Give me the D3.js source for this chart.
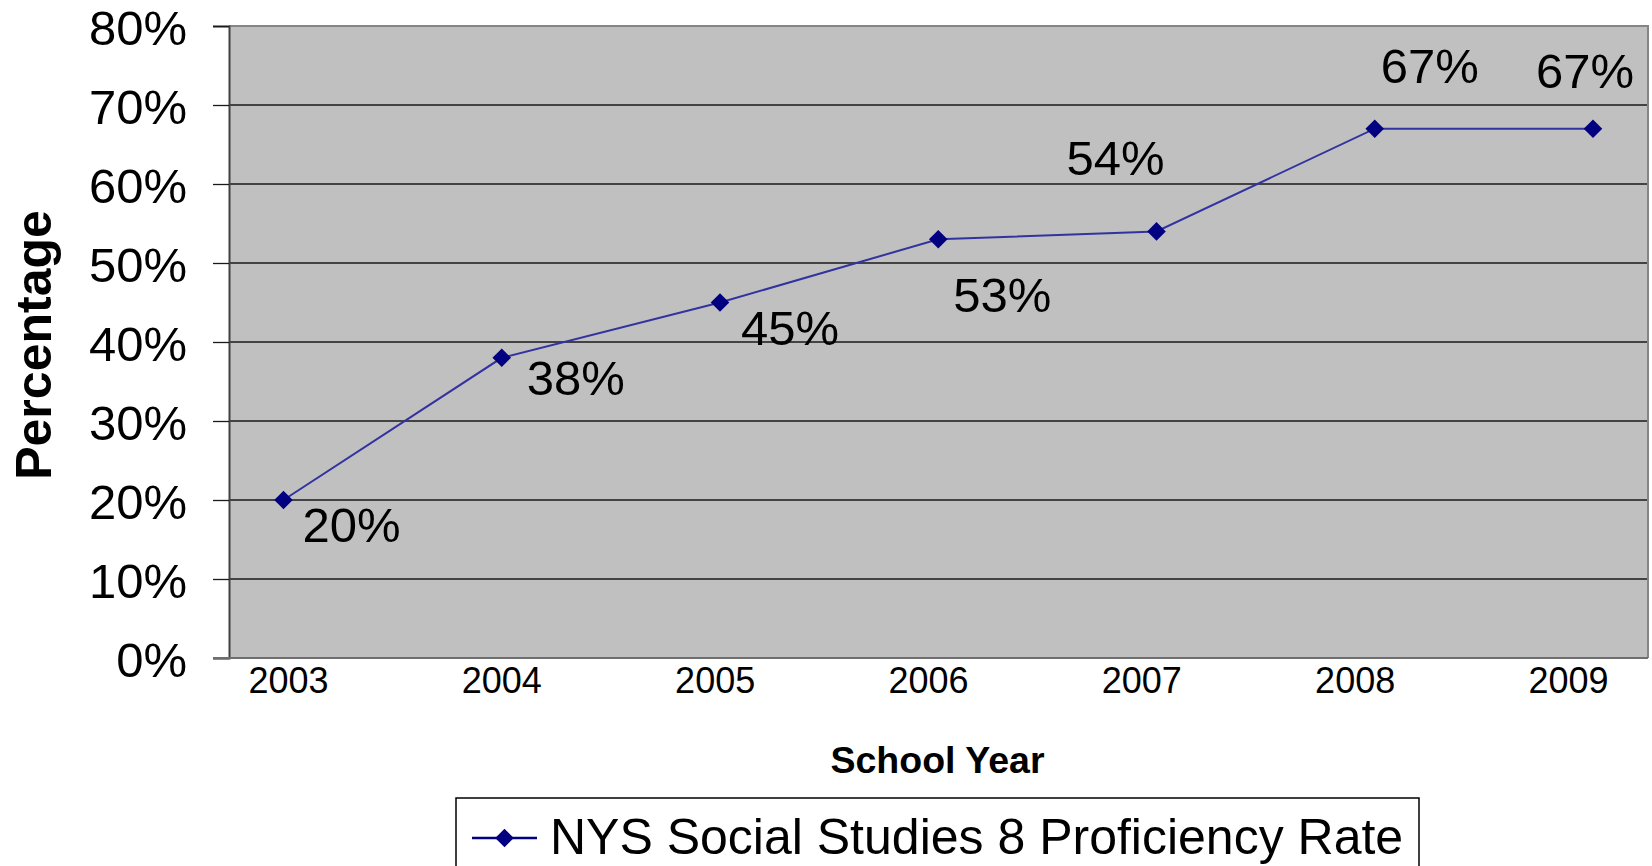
<!DOCTYPE html>
<html>
<head>
<meta charset="utf-8">
<script src="https://cdn.jsdelivr.net/npm/d3@7"></script>
<style>
  html, body { margin: 0; padding: 0; background: #ffffff; overflow: hidden; }
  svg { display: block; font-family: "Liberation Sans", Arial, Helvetica, sans-serif; }
</style>
</head>
<body>
<svg id="chart" width="1652" height="866"></svg>
<script>
// ---- data ----
const years = ["2003", "2004", "2005", "2006", "2007", "2008", "2009"];
const proficiency = [0.20, 0.38, 0.45, 0.53, 0.54, 0.67, 0.67];
const dataLabels = ["20%", "38%", "45%", "53%", "54%", "67%", "67%"];
const yTicks = [0, 0.1, 0.2, 0.3, 0.4, 0.5, 0.6, 0.7, 0.8];
const seriesName = "NYS Social Studies 8 Proficiency Rate";
const xTitle = "School Year";
const yTitle = "Percentage";

// ---- layout ----
const W = 1652, H = 866;
const plot = { left: 229, right: 1648, top: 26, bottom: 658 };
// label placement relative to each marker (dx, dy to baseline)
const labelOffsets = [[19, 42], [25, 37], [21, 42], [15, 73], [-90, -56], [6, -46], [-57, -41]];

const svg = d3.select("#chart");

const x = d3.scalePoint().domain(years).range([283.5, 1593]);
const xLab = d3.scalePoint().domain(years).range([288, 1568]);
const y = d3.scaleLinear().domain([0, 0.8]).range([plot.bottom, plot.top]);

// plot background
svg.append("rect")
  .attr("x", plot.left).attr("y", plot.top)
  .attr("width", plot.right - plot.left).attr("height", plot.bottom - plot.top)
  .attr("fill", "#c0c0c0");

// gridlines
svg.append("g").selectAll("line")
  .data(yTicks.filter(t => t > 0 && t < 0.8))
  .join("line")
  .attr("x1", plot.left).attr("x2", plot.right)
  .attr("y1", d => y(d)).attr("y2", d => y(d))
  .attr("stroke", "#1a1a1a").attr("stroke-width", 1.3);

// top & right border
svg.append("path")
  .attr("d", `M${plot.left},${plot.top}H${plot.right}V${plot.bottom}`)
  .attr("fill", "none").attr("stroke", "#858585").attr("stroke-width", 2);

// y axis
const yAxis = d3.axisLeft(y)
  .tickValues(yTicks)
  .tickFormat(d3.format(".0%"))
  .tickSize(16)
  .tickPadding(26);
const gy = svg.append("g").attr("transform", `translate(${plot.left},0)`).call(yAxis);
gy.select(".domain").attr("stroke", "#404040").attr("stroke-width", 2);
gy.selectAll(".tick line").attr("stroke", "#1a1a1a").attr("stroke-width", 1.3);
gy.selectAll(".tick text")
  .attr("font-size", 49).attr("fill", "#000")
  .attr("font-family", "'Liberation Sans', Arial, sans-serif")
  .attr("dy", "0.38em");

// x axis baseline
svg.append("line")
  .attr("x1", plot.left - 16).attr("x2", plot.right)
  .attr("y1", plot.bottom).attr("y2", plot.bottom)
  .attr("stroke", "#6e6e6e").attr("stroke-width", 2);

// x axis labels
const xAxis = d3.axisBottom(xLab).tickSize(0).tickPadding(9);
const gx = svg.append("g").attr("transform", `translate(0,${plot.bottom})`).call(xAxis);
gx.select(".domain").remove();
gx.selectAll(".tick text")
  .attr("font-size", 36).attr("fill", "#000")
  .attr("font-family", "'Liberation Sans', Arial, sans-serif")
  .attr("dy", "0.71em");

// line
const line = d3.line().x((d, i) => x(years[i])).y(d => y(d));
svg.append("path")
  .datum(proficiency)
  .attr("d", line)
  .attr("fill", "none")
  .attr("stroke", "#3333a0")
  .attr("stroke-width", 2);

// markers
const diamond = d3.symbol().type(d3.symbolDiamond2).size(220);
svg.append("g").selectAll("path")
  .data(proficiency)
  .join("path")
  .attr("d", diamond)
  .attr("transform", (d, i) => `translate(${x(years[i])},${y(d)})`)
  .attr("fill", "#000080");

// data labels
svg.append("g").selectAll("text")
  .data(proficiency)
  .join("text")
  .attr("x", (d, i) => x(years[i]) + labelOffsets[i][0])
  .attr("y", (d, i) => y(d) + labelOffsets[i][1])
  .attr("font-size", 49)
  .attr("fill", "#000")
  .text((d, i) => dataLabels[i]);

// axis titles
svg.append("text")
  .attr("x", (plot.left + plot.right) / 2 - 1)
  .attr("y", 773)
  .attr("text-anchor", "middle")
  .attr("font-size", 37.5).attr("font-weight", "bold")
  .text(xTitle);

svg.append("text")
  .attr("transform", `translate(51,${(plot.top + plot.bottom) / 2 + 3}) rotate(-90)`)
  .attr("text-anchor", "middle")
  .attr("font-size", 50).attr("font-weight", "bold")
  .text(yTitle);

// legend
const lg = svg.append("g");
lg.append("rect")
  .attr("x", 456).attr("y", 798).attr("width", 963).attr("height", 100)
  .attr("fill", "#fff").attr("stroke", "#000").attr("stroke-width", 1.5);
lg.append("line")
  .attr("x1", 472).attr("x2", 537).attr("y1", 838).attr("y2", 838)
  .attr("stroke", "#000080").attr("stroke-width", 2.5);
lg.append("path")
  .attr("d", diamond)
  .attr("transform", "translate(504.5,838)")
  .attr("fill", "#000080");
lg.append("text")
  .attr("x", 550).attr("y", 854)
  .attr("font-size", 50)
  .text(seriesName);
</script>
</body>
</html>
